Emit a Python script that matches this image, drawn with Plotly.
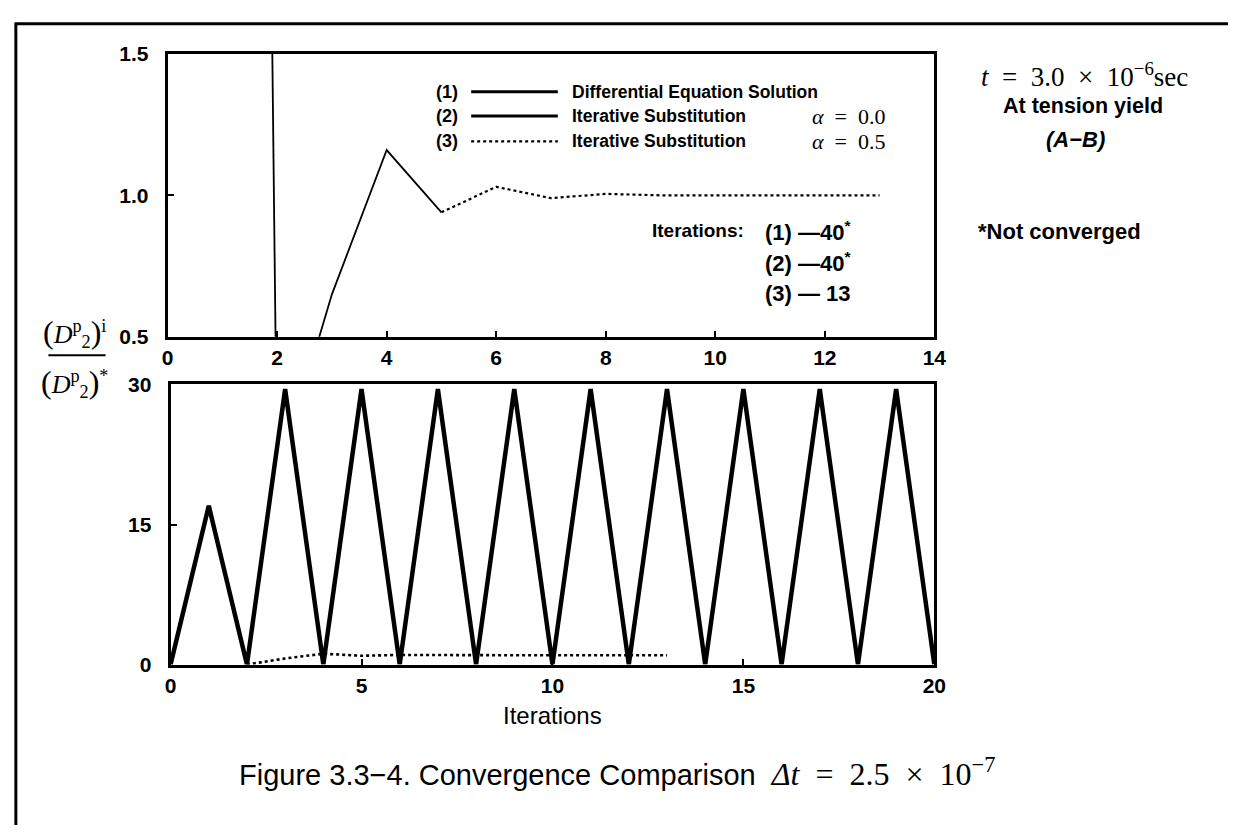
import plotly.graph_objects as go

W, H = 1240, 836

# ---------------- data ----------------
iterations_a0 = list(range(0, 21))
ratio_a0 = [0, 17, 0, 29.5, 0, 29.5, 0, 29.5, 0, 29.5, 0, 29.5, 0, 29.5, 0, 29.5, 0, 29.5, 0, 29.5, 0]

iterations_a05 = [2, 3, 4, 5, 6, 7, 8, 9, 10, 11, 12, 13]
ratio_a05 = [0, 0.65, 1.16, 0.94, 1.03, 0.99, 1.005, 1.0, 1.0, 1.0, 1.0, 1.0]

top_xticks = [0, 2, 4, 6, 8, 10, 12, 14]
top_yticks = [0.5, 1.0, 1.5]
bot_xticks = [0, 5, 10, 15, 20]
bot_yticks = [0, 15, 30]

legend_ids = ["(1)", "(2)", "(3)"]
legend_names = ["Differential Equation Solution", "Iterative Substitution", "Iterative Substitution"]
legend_alpha = ["", "<i>α</i>  =  0.0", "<i>α</i>  =  0.5"]
iter_counts = ["(1) —40<sup>*</sup>", "(2) —40<sup>*</sup>", "(3) — 13"]

# ---------------- helpers ----------------
def px(x):
    return x / W

def py(y):
    return 1 - y / H

SANS = "Liberation Sans, Arial, sans-serif"
NARROW = "Liberation Sans Narrow, Arial Narrow, Liberation Sans, sans-serif"
SERIF = "Liberation Serif, Times New Roman, serif"

fig = go.Figure()

# top panel: alpha=0 descent (clipped) and alpha=0.5
fig.add_trace(go.Scatter(x=iterations_a0[1:3], y=ratio_a0[1:3], mode="lines",
                         line=dict(color="black", width=1.8), xaxis="x", yaxis="y",
                         showlegend=False, hoverinfo="skip"))
split = iterations_a05.index(5) + 1
fig.add_trace(go.Scatter(x=iterations_a05[:split], y=ratio_a05[:split], mode="lines",
                         line=dict(color="black", width=1.8), xaxis="x", yaxis="y",
                         showlegend=False, hoverinfo="skip"))
fig.add_trace(go.Scatter(x=iterations_a05[split - 1:], y=ratio_a05[split - 1:], mode="lines",
                         line=dict(color="black", width=2.2, dash="dot"), xaxis="x", yaxis="y",
                         showlegend=False, hoverinfo="skip"))

# bottom panel
fig.add_trace(go.Scatter(x=iterations_a0, y=ratio_a0, mode="lines",
                         line=dict(color="black", width=4.5), xaxis="x2", yaxis="y2",
                         showlegend=False, hoverinfo="skip"))
fig.add_trace(go.Scatter(x=iterations_a05, y=ratio_a05, mode="lines",
                         line=dict(color="black", width=2.6, dash="dot"), xaxis="x2", yaxis="y2",
                         showlegend=False, hoverinfo="skip"))

tickfont = dict(family=SANS, size=21, color="black", weight="bold")
axis_common = dict(showline=True, linewidth=3, linecolor="black", mirror=True,
                   ticks="inside", ticklen=6, tickwidth=2, tickcolor="black",
                   showgrid=False, zeroline=False, tickfont=tickfont, fixedrange=True)

fig.update_layout(
    width=W, height=H,
    margin=dict(l=0, r=0, t=0, b=0),
    paper_bgcolor="white", plot_bgcolor="white",
    xaxis=dict(domain=[px(164), px(942)], range=[0, 14], tickvals=top_xticks,
               anchor="y", ticklabelstandoff=0, **axis_common),
    yaxis=dict(domain=[py(334), py(43)], range=[0.5, 1.5], tickvals=top_yticks,
               tickformat=".1f", anchor="x", ticklabelstandoff=12, **axis_common),
    xaxis2=dict(domain=[px(167), px(942)], range=[0, 20], tickvals=bot_xticks,
                anchor="y2", ticklabelstandoff=0, **axis_common),
    yaxis2=dict(domain=[py(671), py(383)], range=[0, 30], tickvals=bot_yticks,
                anchor="x2", ticklabelstandoff=12, **axis_common),
)

ann = []
shapes = []

# outer frame (left, top edges)
shapes.append(dict(type="line", xref="paper", yref="paper", x0=px(10), x1=px(10),
                   y0=py(11), y1=py(836), line=dict(color="black", width=3)))
shapes.append(dict(type="line", xref="paper", yref="paper", x0=px(9), x1=px(1240),
                   y0=py(12), y1=py(12), line=dict(color="black", width=3)))

# legend
legend_rows = [82, 107, 133]
legend_dash = ["solid", "solid", "dot"]
legend_width = [3, 3, 2.2]
for i in range(3):
    yy = legend_rows[i]
    ann.append(dict(x=px(461), y=py(yy), xref="paper", yref="paper", text=legend_ids[i],
                    showarrow=False, xanchor="right", yanchor="middle",
                    font=dict(family=NARROW, size=18, color="black", weight="bold")))
    shapes.append(dict(type="line", xref="paper", yref="paper", x0=px(472), x1=px(560),
                       y0=py(yy), y1=py(yy),
                       line=dict(color="black", width=legend_width[i], dash=legend_dash[i])))
    ann.append(dict(x=px(572), y=py(yy), xref="paper", yref="paper", text=legend_names[i],
                    showarrow=False, xanchor="left", yanchor="middle",
                    font=dict(family=NARROW, size=17.5, color="black", weight="bold")))
    if legend_alpha[i]:
        ann.append(dict(x=px(816), y=py(yy), xref="paper", yref="paper", text=legend_alpha[i],
                        showarrow=False, xanchor="left", yanchor="middle",
                        font=dict(family=SERIF, size=22, color="black")))

# iteration counts
count_rows = [225, 257, 289]
ann.append(dict(x=px(751), y=py(count_rows[0]), xref="paper", yref="paper", text="Iterations:",
                showarrow=False, xanchor="right", yanchor="middle",
                font=dict(family=NARROW, size=19, color="black", weight="bold")))
for i, yy in enumerate(count_rows):
    ann.append(dict(x=px(768), y=py(yy), xref="paper", yref="paper", text=iter_counts[i],
                    showarrow=False, xanchor="left", yanchor="middle",
                    font=dict(family=SANS, size=22, color="black", weight="bold")))

# right notes
ann.append(dict(x=px(1094), y=py(65), xref="paper", yref="paper",
                text="<i>t</i>  =  3.0  ×  10<sup>−6</sup>sec",
                showarrow=False, xanchor="center", yanchor="middle",
                font=dict(family=SERIF, size=27, color="black")))
ann.append(dict(x=px(1093), y=py(97), xref="paper", yref="paper", text="At tension yield",
                showarrow=False, xanchor="center", yanchor="middle",
                font=dict(family=NARROW, size=21.5, color="black", weight="bold")))
ann.append(dict(x=px(1085), y=py(131), xref="paper", yref="paper", text="<i>(A−B)</i>",
                showarrow=False, xanchor="center", yanchor="middle",
                font=dict(family=SANS, size=22, color="black", weight="bold")))
ann.append(dict(x=px(984), y=py(226), xref="paper", yref="paper", text="*Not converged",
                showarrow=False, xanchor="left", yanchor="middle",
                font=dict(family=NARROW, size=22, color="black", weight="bold")))

# y-axis fraction label
PAR = "<span style='font-size:32px'>%s</span>"
ann.append(dict(x=px(70), y=py(330), xref="paper", yref="paper",
                text=PAR % "(" + "<i>D</i><sup>p</sup><sub>2</sub>" + PAR % ")" + "<sup>i</sup>",
                showarrow=False, xanchor="center", yanchor="middle",
                font=dict(family=SERIF, size=26, color="black")))
shapes.append(dict(type="line", xref="paper", yref="paper", x0=px(43), x1=px(101),
                   y0=py(353), y1=py(353), line=dict(color="black", width=2)))
ann.append(dict(x=px(70), y=py(382), xref="paper", yref="paper",
                text=PAR % "(" + "<i>D</i><sup>p</sup><sub>2</sub>" + PAR % ")" + "<sup>*</sup>",
                showarrow=False, xanchor="center", yanchor="middle",
                font=dict(family=SERIF, size=26, color="black")))

# axis title and caption
ann.append(dict(x=px(555), y=py(723), xref="paper", yref="paper", text="Iterations",
                showarrow=False, xanchor="center", yanchor="middle",
                font=dict(family=SANS, size=24, color="black")))
ann.append(dict(x=px(620), y=py(781), xref="paper", yref="paper",
                text="Figure 3.3−4. Convergence Comparison  "
                     "<span style='font-family:Liberation Serif;font-size:32px'>"
                     "<i>Δt</i>  =  2.5  ×  10<sup>−7</sup></span>",
                showarrow=False, xanchor="center", yanchor="middle",
                font=dict(family=SANS, size=29, color="black")))

fig.update_layout(annotations=ann, shapes=shapes)

fig.write_html("out.html", config={"displayModeBar": False},
               post_script="document.body.style.margin='0';")
